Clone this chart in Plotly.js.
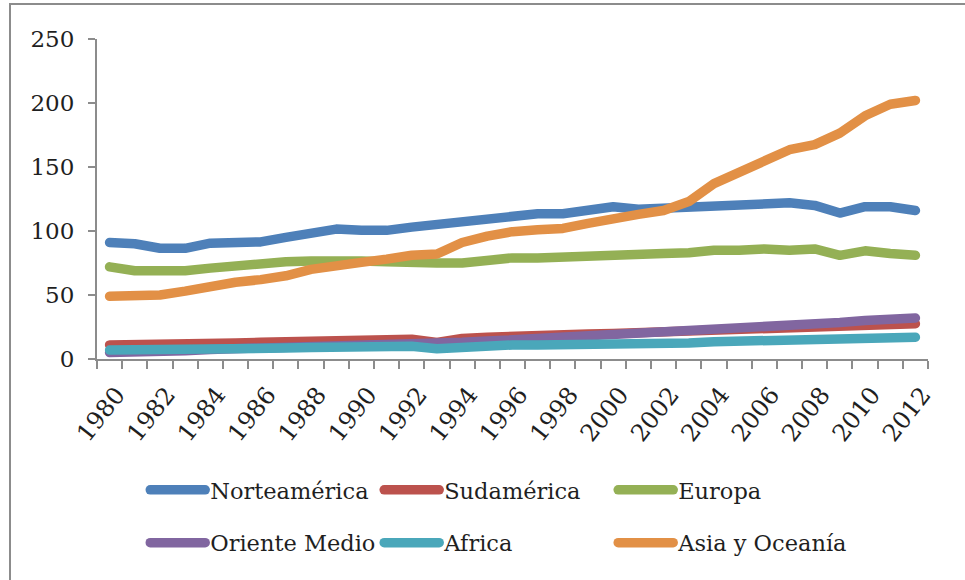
<!DOCTYPE html>
<html>
<head>
<meta charset="utf-8">
<script src="https://cdn.plot.ly/plotly-3.0.1.min.js"></script>
<style>
  html, body { margin: 0; padding: 0; background: #fff; }
  #wrap { position: relative; width: 965px; height: 580px; overflow: hidden; }
  #chart { width: 965px; height: 580px; }
  #frame {
    position: absolute; left: 9px; top: 3px; right: -4px; bottom: -4px;
    border-left: 2px solid #8c8c8c; border-top: 2px solid #8c8c8c;
    pointer-events: none;
  }
  .js-line { stroke-linecap: round; stroke-linejoin: round; }
  .legendlines path { stroke-linecap: round; }
</style>
</head>
<body>
<div id="wrap"><div id="chart"></div><div id="frame"></div></div>
<script>
// Years on the horizontal axis
const years = [1980, 1981, 1982, 1983, 1984, 1985, 1986, 1987, 1988, 1989,
               1990, 1991, 1992, 1993, 1994, 1995, 1996, 1997, 1998, 1999,
               2000, 2001, 2002, 2003, 2004, 2005, 2006, 2007, 2008, 2009,
               2010, 2011, 2012];

// Labelled years (every other year)
const labelYears = [1980, 1982, 1984, 1986, 1988, 1990, 1992, 1994, 1996,
                    1998, 2000, 2002, 2004, 2006, 2008, 2010, 2012];

// Series by region
const norteamerica = [91, 90, 86.5, 86.5, 90.5, 91.5, 91.5, 95, 99, 101.5,
                      100.5, 100.5, 103, 105, 107, 109, 112.5, 113.5, 113.5, 115.5,
                      119, 117, 118, 119, 120, 121, 120.5, 122, 120, 114,
                      119, 119, 116];
const sudamerica = [11, 11, 11, 11.5, 12, 12.5, 13, 13.5, 14, 14,
                    14.5, 15, 15.5, 13, 16, 17, 18, 18.5, 19, 19.5,
                    20, 20.5, 21, 21.5, 22, 22.5, 23, 23.5, 24, 24.5,
                    25.5, 26.5, 27.5];
const europa = [72, 69, 69, 69, 71, 73, 75, 76, 76.5, 77,
                76.5, 76, 75, 75, 75, 77, 79, 79, 80, 80,
                81, 82, 82.5, 83, 85, 85, 86, 85, 86, 81,
                84.5, 82.5, 81];
const orienteMedio = [5, 5, 5.5, 6.5, 7.5, 8, 8.5, 9, 9.5, 10,
                      10.5, 11, 12, 11, 13, 14, 15, 15.5, 16, 17,
                      18, 19, 20, 21, 22.5, 24, 25, 26, 27.5, 28.5,
                      30, 31, 32];
const africa = [7, 7, 7, 7.5, 8, 8, 8, 8.5, 9, 9,
                9.5, 10, 10, 8, 9.5, 10, 11, 11, 11, 11.5,
                12, 12, 12, 12.5, 13.5, 14, 14, 15, 15.5, 15.5,
                15.5, 15.5, 17];
const asiaOceania = [49, 50, 50, 53, 57, 60, 62, 65, 70, 72,
                     75.5, 78, 81, 82, 91, 96, 99.5, 101, 102, 106,
                     110, 113, 116, 123, 137, 146.5, 155.5, 163.5, 167.5, 176.5,
                     190, 199, 202];

const seriesNames = ['Norteamérica', 'Sudamérica', 'Europa',
                     'Oriente Medio', 'Africa', 'Asia y Oceanía'];
const seriesValues = [norteamerica, sudamerica, europa, orienteMedio, africa, asiaOceania];
const seriesColors = ['#4e80b9', '#bc524d', '#94b055', '#8166a0', '#4aa7ba', '#e29046'];
const seriesLegend = ['legend', 'legend', 'legend', 'legend2', 'legend2', 'legend2'];

const traces = seriesNames.map((name, i) => ({
  type: 'scatter',
  mode: 'lines',
  name: name,
  x: years,
  y: seriesValues[i],
  line: { color: seriesColors[i], width: 9.5 },
  legend: seriesLegend[i],
  hoverinfo: 'skip'
}));

// Category boundaries for the small tick marks
const boundaries = [];
for (let v = years[0] - 0.5; v <= years[years.length - 1] + 0.5; v += 1) boundaries.push(v);

const serif = 'DejaVu Serif, Liberation Serif, serif';
const axisGrey = '#8c8c8c';
const textColor = '#1f1f1f';

const legendBase = {
  orientation: 'h',
  xanchor: 'left',
  yanchor: 'middle',
  x: 0.058,
  entrywidth: 164,
  entrywidthmode: 'pixels',
  itemwidth: 55,
  bgcolor: 'rgba(0,0,0,0)',
  borderwidth: 0,
  font: { family: serif, size: 22.5, color: textColor },
  traceorder: 'normal'
};

const layout = {
  width: 965,
  height: 580,
  margin: { l: 97, r: 37, t: 39, b: 221 },
  paper_bgcolor: '#ffffff',
  plot_bgcolor: '#ffffff',
  showlegend: true,
  xaxis: {
    range: [years[0] - 0.5, years[years.length - 1] + 0.5],
    tickmode: 'array',
    tickvals: labelYears,
    ticktext: labelYears.map(String),
    ticks: '',
    tickangle: -52,
    ticklabelstandoff: 10,
    ticklabelshift: 7,
    tickfont: { family: serif, size: 24, color: textColor },
    showline: true,
    linecolor: axisGrey,
    linewidth: 2,
    showgrid: false,
    zeroline: false,
    minor: {
      tickmode: 'array',
      tickvals: boundaries,
      ticks: 'outside',
      ticklen: 8,
      tickwidth: 2,
      tickcolor: axisGrey,
      showgrid: false
    }
  },
  yaxis: {
    range: [0, 250],
    tickmode: 'array',
    tickvals: [0, 50, 100, 150, 200, 250],
    ticks: 'outside',
    ticklen: 7,
    tickwidth: 2,
    tickcolor: axisGrey,
    ticklabelstandoff: 9,
    tickfont: { family: serif, size: 23, color: textColor },
    showline: true,
    linecolor: axisGrey,
    linewidth: 2,
    showgrid: false,
    zeroline: false
  },
  legend: Object.assign({}, legendBase, { y: -0.41 }),
  legend2: Object.assign({}, legendBase, { y: -0.575 })
};

Plotly.newPlot('chart', traces, layout, { staticPlot: true, displayModeBar: false });
</script>
</body>
</html>
